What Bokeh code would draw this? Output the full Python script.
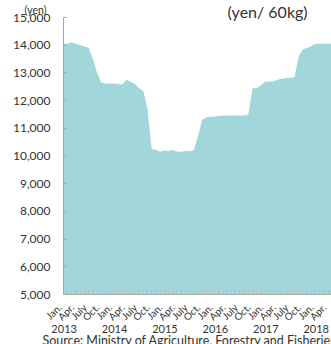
import math
from bokeh.plotting import figure
from bokeh.models import Range1d, FixedTicker, NumeralTickFormatter, GridBox
from bokeh.core.properties import value
from bokeh.embed import file_html
from bokeh.resources import INLINE

# monthly producer price of rice, Jan 2013 = index 0
month_index = list(range(66))
price = [14050, 14050, 14100, 14050, 14000, 13950, 13900, 13500, 13000, 12650,
         12620, 12620, 12620, 12600, 12580, 12750, 12680, 12600, 12450, 12350,
         11700, 10250, 10230, 10150, 10200, 10180, 10220, 10150, 10150, 10180,
         10180, 10200, 10700, 11300, 11400, 11420, 11430, 11450, 11450, 11460,
         11460, 11470, 11450, 11460, 11500, 12450, 12450, 12550, 12680, 12680,
         12700, 12750, 12800, 12820, 12820, 12850, 13600, 13850, 13900, 13970,
         14050, 14050, 14050, 14050, 14050, 14050]
quarter_names = ["Jan.", "Apr.", "July", "Oct."]
years = ["2013", "2014", "2015", "2016", "2017", "2018"]
year_start_month = [0, 12, 24, 36, 48, 60]
y_ticks = [5000, 6000, 7000, 8000, 9000, 10000, 11000, 12000, 13000, 14000, 15000]

FONT = "Lato"
TXT = "#333333"
W, H = 331, 344
LEFT, TOP, BOTTOM = 63, 17, 50
X_END = 63.8  # months visible in the frame
mpp = X_END / (W - LEFT)  # months per pixel

p = figure(width=W, height=H, output_backend="svg", toolbar_location=None,
           x_range=Range1d(0, X_END), y_range=Range1d(5000, 15000),
           min_border_left=LEFT, min_border_right=0, min_border_top=TOP,
           min_border_bottom=BOTTOM)
p.frame_align = False
p.outline_line_color = None
p.xgrid.grid_line_color = None
p.ygrid.grid_line_color = None

p.varea(x=month_index, y1=[5000] * len(price), y2=price, fill_color="#a1d6da")

# y axis
p.yaxis.ticker = FixedTicker(ticks=y_ticks)
p.yaxis.formatter = NumeralTickFormatter(format="0,0")
p.yaxis.axis_line_color = "#a6a6a6"
p.yaxis.major_tick_line_color = "#a6a6a6"
p.yaxis.major_tick_in = 3
p.yaxis.major_tick_out = 0
p.yaxis.minor_tick_line_color = None
p.yaxis.major_label_text_font = FONT
p.yaxis.major_label_text_font_size = "12px"
p.yaxis.major_label_text_color = TXT
p.yaxis.major_label_standoff = 13

# x axis (ticks only; rotated labels drawn on the overlay)
qticks = list(range(0, 64, 3))
p.xaxis.ticker = FixedTicker(ticks=qticks, minor_ticks=list(range(0, 66)))
p.xaxis.major_label_overrides = {t: "" for t in qticks}
p.xaxis.axis_line_color = "#a6a6a6"
p.xaxis.major_tick_line_color = "#b8b8b8"
p.xaxis.minor_tick_line_color = "#b8b8b8"
p.xaxis.major_tick_in = 4
p.xaxis.major_tick_out = 0
p.xaxis.minor_tick_in = 4
p.xaxis.minor_tick_out = 0

# transparent overlay for the free texts (same month scale, y in pixels from top)
ov = figure(width=W, height=H, output_backend="svg", toolbar_location=None,
            title=None, x_range=Range1d(-LEFT * mpp, X_END), y_range=Range1d(H, 0),
            min_border=0, x_axis_type=None, y_axis_type=None)
ov.frame_align = False
ov.background_fill_color = None
ov.border_fill_color = None
ov.outline_line_color = None

ov.text(x=[t - 4 * mpp for t in qticks], y=[305] * len(qticks),
        text=[quarter_names[(t // 3) % 4] for t in qticks], angle=math.pi / 4,
        text_align="right", text_baseline="middle", text_font=value(FONT),
        text_font_size="10px", text_color=TXT)
ov.text(x=[m + 0.15 for m in year_start_month], y=[328] * len(years), text=years,
        text_align="center", text_baseline="middle", text_font=value(FONT),
        text_font_size="11px", text_color=TXT)
ov.text(x=[(42 - LEFT) * mpp], y=[340],
        text=["Source: Ministry of Agriculture, Forestry and Fisheries"],
        text_align="left", text_baseline="alphabetic", text_font=value(FONT),
        text_font_size="12.5px", text_color=TXT)
ov.text(x=[(227 - LEFT) * mpp], y=[1], text=["(yen/ 60kg)"], text_align="left",
        text_baseline="top", text_font=value(FONT), text_font_size="16px", text_color=TXT)
ov.text(x=[(24 - LEFT) * mpp], y=[3], text=["(yen)"], text_align="left",
        text_baseline="top", text_font=value(FONT), text_font_size="10.5px", text_color=TXT)

layout = GridBox(children=[(p, 0, 0), (ov, 0, 0)])

open("out.html", "w").write(file_html(layout, INLINE))
